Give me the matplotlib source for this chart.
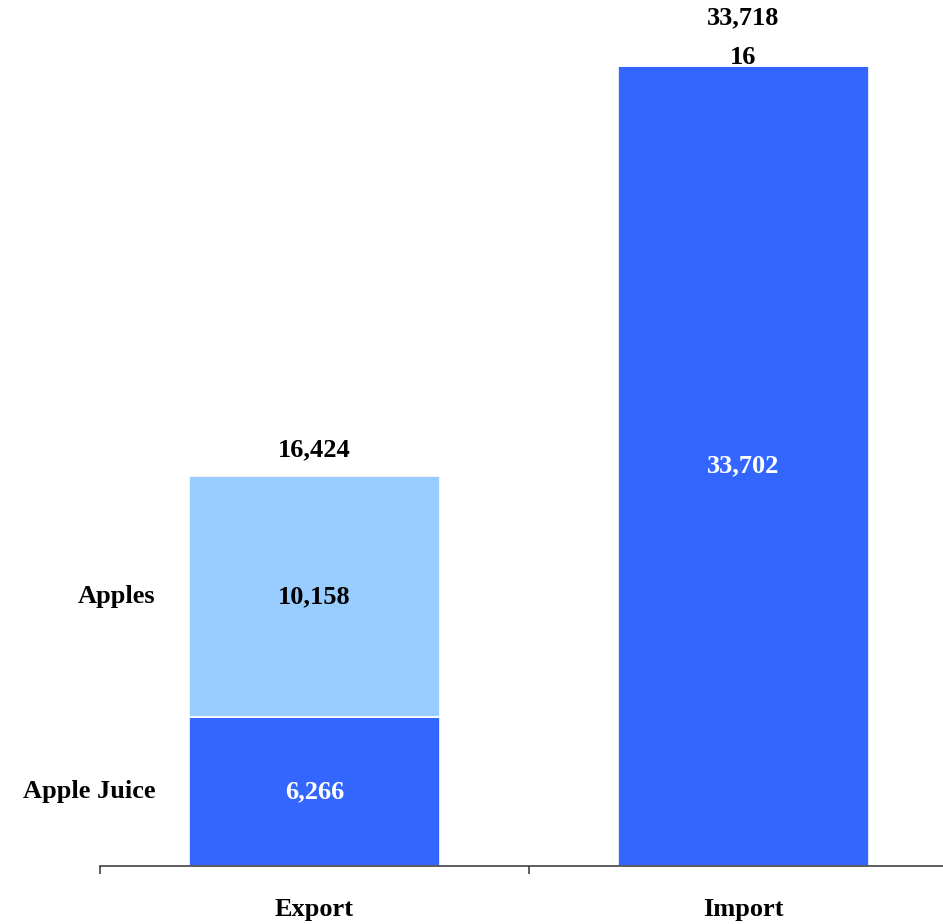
import matplotlib
matplotlib.use('Agg')
import numpy as np
import matplotlib.pyplot as plt

# data
categories = ['Export', 'Import']
series = ['Apple Juice', 'Apples']
apple_juice = [6266, 33702]
apples = [10158, 16]
colors = ['#3366FF', '#99CCFF']
text_colors = ['white', 'black']

plt.rcParams['font.family'] = ['Liberation Serif', 'DejaVu Serif']
plt.rcParams['font.weight'] = 'bold'
fs = 19

fig = plt.figure(figsize=(9.43, 9.24), dpi=100)
ax = fig.add_axes([100/943, 58/924, 858/943, 866/924])

x = np.arange(len(categories))
w = 0.585
values = [apple_juice, apples]
bottom = np.zeros(len(categories))
for i, vals in enumerate(values):
    vals = np.array(vals, dtype=float)
    ax.bar(x, vals, w, bottom=bottom, color=colors[i], edgecolor='white', linewidth=1.2, zorder=2)
    for j, v in enumerate(vals):
        mid = bottom[j] + v / 2
        if v < 500:
            # too small for the bar, put it just above
            ax.annotate(f'{int(v):,}', (x[j], bottom[j] + v), xytext=(0, 8), textcoords='offset pixels',
                        ha='center', va='center', fontsize=fs, fontweight='bold', color='black')
        else:
            ax.annotate(f'{int(v):,}', (x[j], mid), ha='center', va='center',
                        fontsize=fs, fontweight='bold', color=text_colors[i])
    bottom += vals

# totals
for j in range(len(categories)):
    off = 26 + (22 if apples[j] < 500 else 0)
    ax.annotate(f'{int(bottom[j]):,}', (x[j], bottom[j]), xytext=(0, off), textcoords='offset pixels',
                ha='center', va='center', fontsize=fs, fontweight='bold', color='black')

# series labels left of the first bar
seg_bottom = 0
for i, vals in enumerate(values):
    mid = seg_bottom + vals[0] / 2
    ax.annotate(series[i], (x[0] - w/2, mid), xytext=(-34, 0), textcoords='offset pixels',
                ha='right', va='center', fontsize=fs, fontweight='bold', color='black')
    seg_bottom += vals[0]

ax.set_xlim(-0.5, 1.5)
ax.set_ylim(0, 36480)

for s in ['top', 'right', 'left']:
    ax.spines[s].set_visible(False)
ax.spines['bottom'].set_color('#333333')
ax.spines['bottom'].set_linewidth(1.1)
ax.set_yticks([])

ax.set_xticks([-0.5, 0.5, 1.5])
ax.set_xticklabels([])
ax.tick_params(axis='x', which='major', length=6, color='#333333', width=1.1)
ax.set_xticks(x, minor=True)
ax.set_xticklabels(categories, minor=True, fontsize=fs, fontweight='bold')
ax.tick_params(axis='x', which='minor', length=0, pad=23)

fig.savefig('out.png', dpi=100)
